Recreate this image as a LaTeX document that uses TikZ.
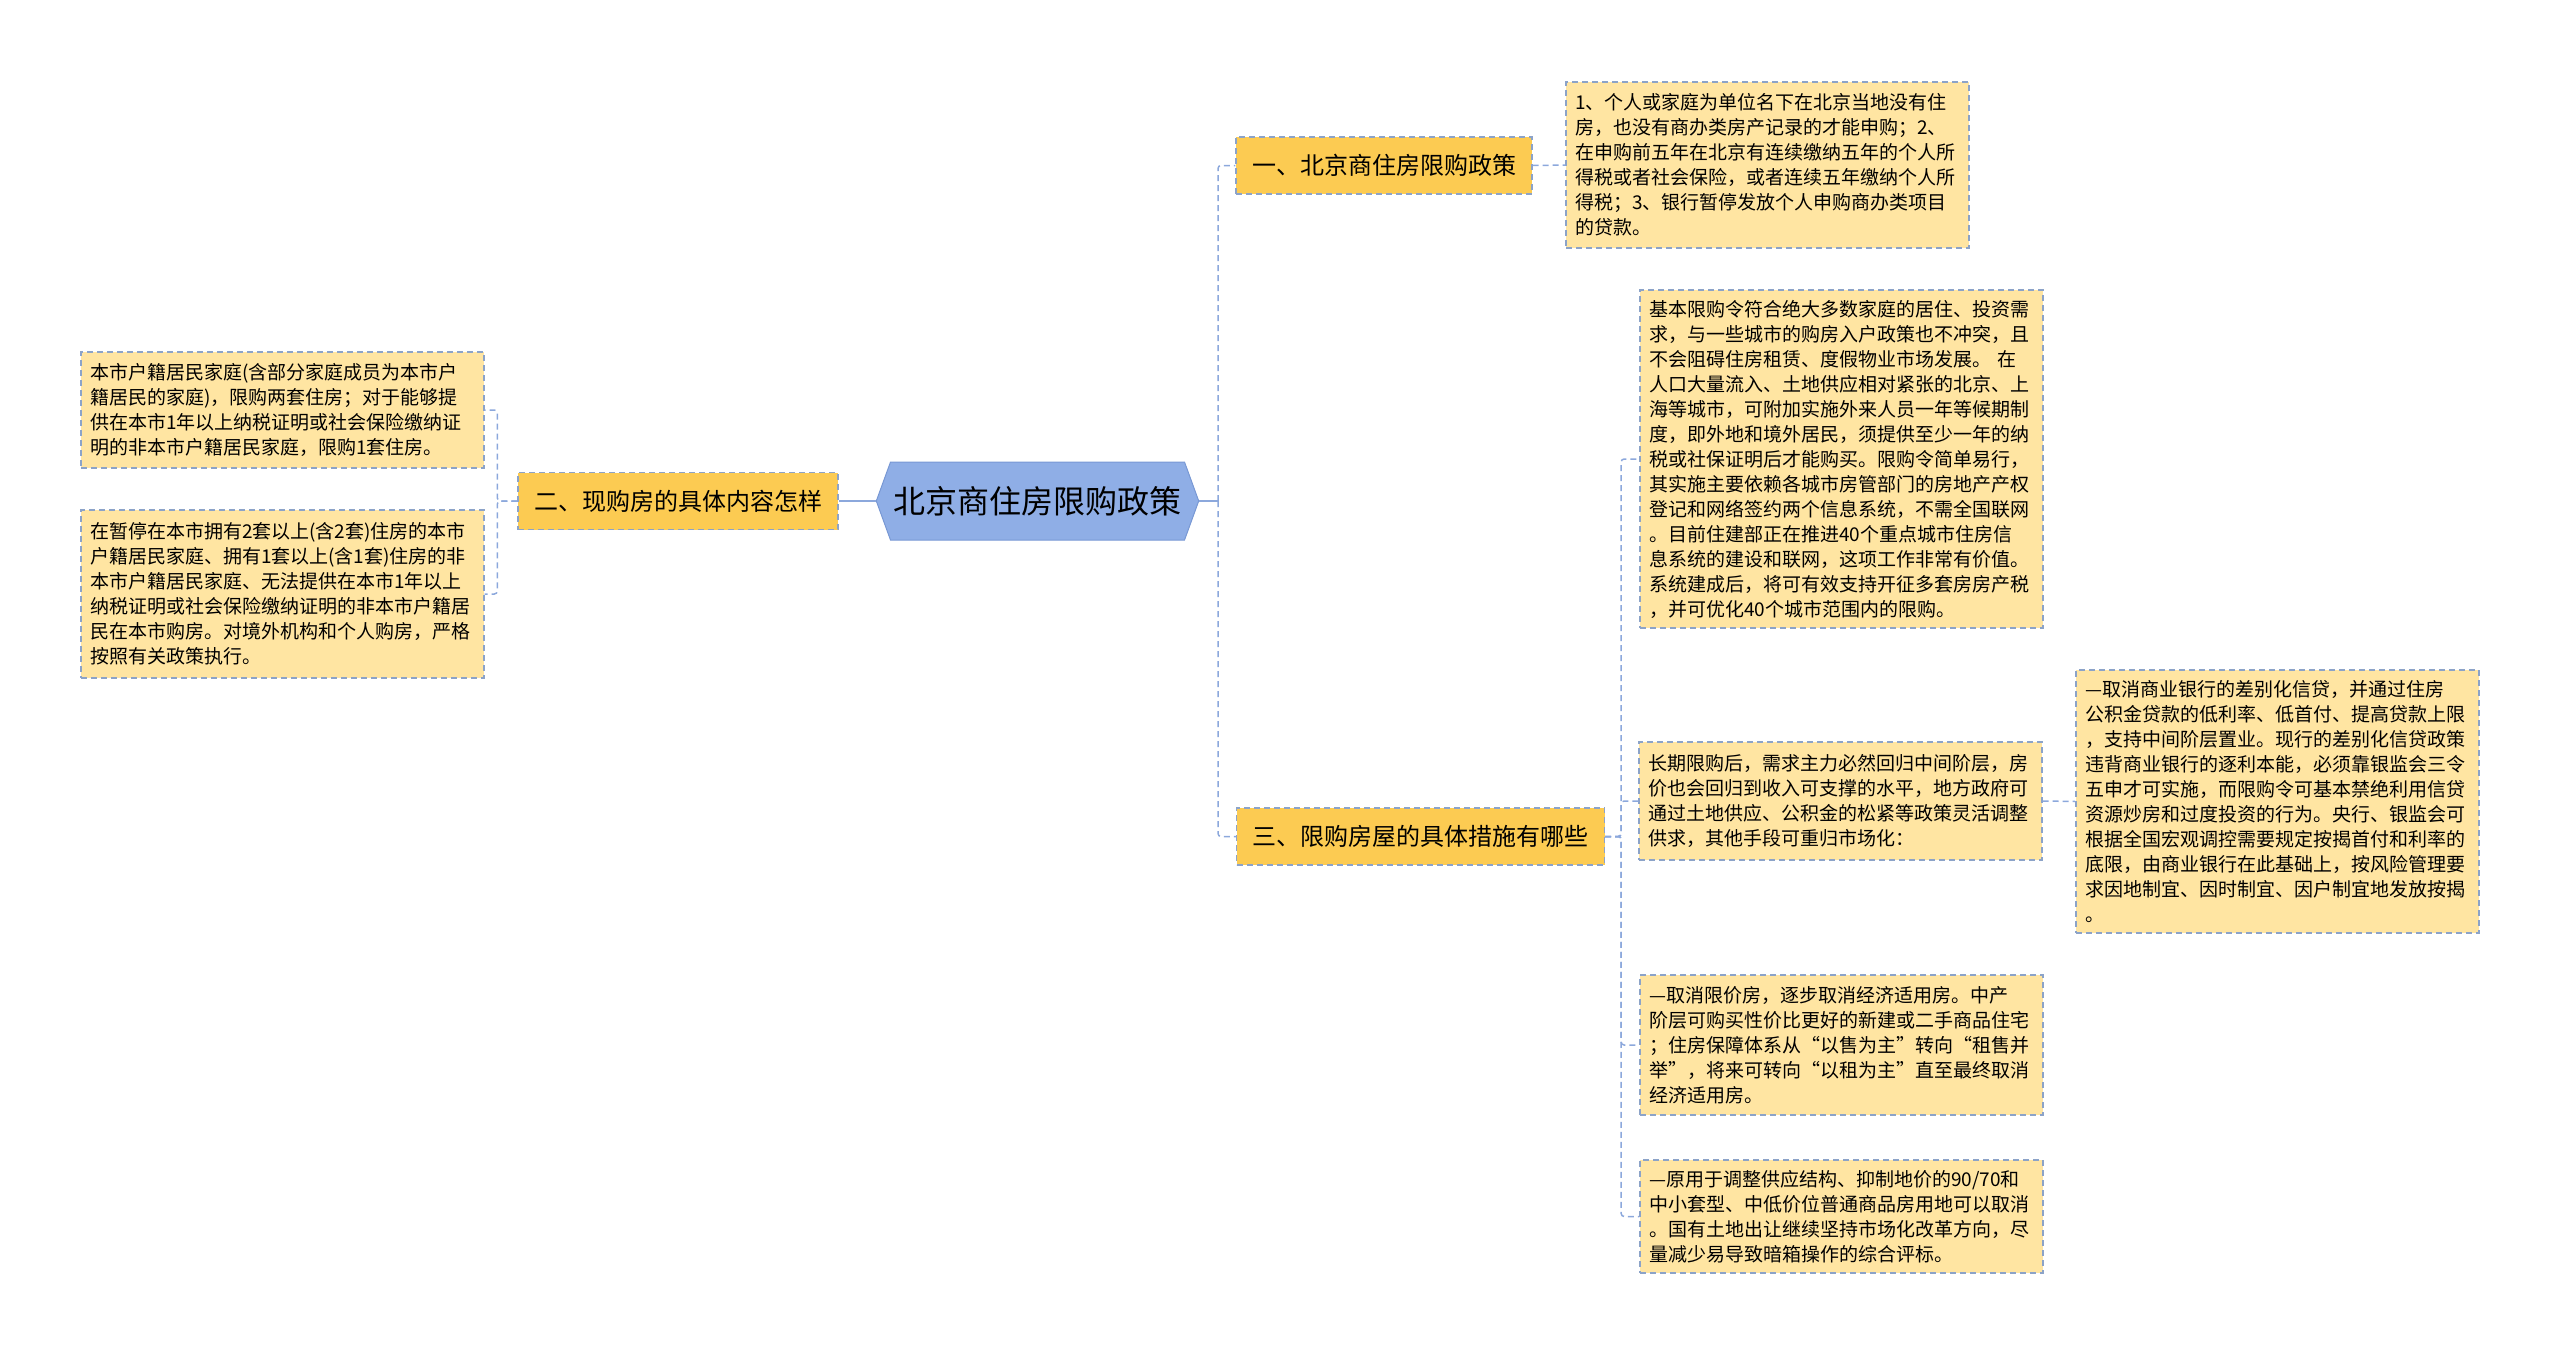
\documentclass[tikz,border=0pt]{standalone}
\usepackage{fontspec}
\setmainfont{Noto Sans CJK SC}
\usetikzlibrary{shapes.symbols}

\definecolor{rootblue}{RGB}{143,174,230}
\definecolor{rootedge}{RGB}{120,152,212}
\definecolor{gold}{RGB}{252,203,82}
\definecolor{leafyellow}{RGB}{255,229,162}
\definecolor{edgegray}{RGB}{140,163,200}
\definecolor{linkblue}{RGB}{140,168,220}

\begin{document}
\begin{tikzpicture}[x=1pt,y=-1pt]

      \tikzstyle{rootnode}=[shape=signal,signal to=east and west,signal pointer angle=140,
                            fill=rootblue,draw=rootedge,line width=1pt,minimum height=78pt,
                            inner xsep=3pt,font=\fontsize{32}{38}\selectfont]
      \tikzstyle{topic}=[draw=edgegray,dashed,dash pattern=on 6pt off 4pt,line width=1.3pt,
                         fill=gold,minimum height=57pt,inner xsep=16pt,
                         font=\fontsize{24}{28}\selectfont]
      \tikzstyle{leaf}=[draw=edgegray,dash pattern=on 6pt off 4pt,line width=1.3pt,
                        fill=leafyellow,text width=385pt,inner xsep=9pt,align=left,
                        font=\fontsize{19}{25}\selectfont]
      \tikzstyle{link}=[draw=linkblue,line width=1.5pt,dash pattern=on 6pt off 4pt,rounded corners=3pt]
      \tikzstyle{rootlink}=[draw=linkblue,line width=2pt]

      \useasboundingbox (0,0) rectangle (2560,1357);

      % centre and first level
      \node[rootnode] (root) at (1037.5,501) {北京商住房限购政策};
      \node[topic] (one) at (1384,165.5) {一、北京商住房限购政策};
      \node[topic] (two) at (678,501) {二、现购房的具体内容怎样};
      \node[topic] (three) at (1420.5,836.5) {三、限购房屋的具体措施有哪些};

      % details
      \node[leaf,minimum height=166pt] (oneA) at (1767.5,165) {1、个人或家庭为单位名下在北京当地没有住\\
        房，也没有商办类房产记录的才能申购；2、\\
        在申购前五年在北京有连续缴纳五年的个人所\\
        得税或者社会保险，或者连续五年缴纳个人所\\
        得税；3、银行暂停发放个人申购商办类项目\\
        的贷款。};
      \node[leaf,minimum height=116pt] (twoA) at (282.5,410) {本市户籍居民家庭(含部分家庭成员为本市户\\
        籍居民的家庭)，限购两套住房；对于能够提\\
        供在本市1年以上纳税证明或社会保险缴纳证\\
        明的非本市户籍居民家庭，限购1套住房。};
      \node[leaf,minimum height=168pt] (twoB) at (282.5,594) {在暂停在本市拥有2套以上(含2套)住房的本市\\
        户籍居民家庭、拥有1套以上(含1套)住房的非\\
        本市户籍居民家庭、无法提供在本市1年以上\\
        纳税证明或社会保险缴纳证明的非本市户籍居\\
        民在本市购房。对境外机构和个人购房，严格\\
        按照有关政策执行。};
      \node[leaf,minimum height=338pt] (threeA) at (1841.5,459) {基本限购令符合绝大多数家庭的居住、投资需\\
        求，与一些城市的购房入户政策也不冲突，且\\
        不会阻碍住房租赁、度假物业市场发展。\ 在\\
        人口大量流入、土地供应相对紧张的北京、上\\
        海等城市，可附加实施外来人员一年等候期制\\
        度，即外地和境外居民，须提供至少一年的纳\\
        税或社保证明后才能购买。限购令简单易行，\\
        其实施主要依赖各城市房管部门的房地产产权\\
        登记和网络签约两个信息系统，不需全国联网\\
        。目前住建部正在推进40个重点城市住房信\\
        息系统的建设和联网，这项工作非常有价值。\\
        系统建成后，将可有效支持开征多套房房产税\\
        ，并可优化40个城市范围内的限购。};
      \node[leaf,minimum height=118pt] (threeB) at (1840.5,801) {长期限购后，需求主力必然回归中间阶层，房\\
        价也会回归到收入可支撑的水平，地方政府可\\
        通过土地供应、公积金的松紧等政策灵活调整\\
        供求，其他手段可重归市场化：};
      \node[leaf,minimum height=263pt] (threeBa) at (2277.5,801.5) {—取消商业银行的差别化信贷，并通过住房\\
        公积金贷款的低利率、低首付、提高贷款上限\\
        ，支持中间阶层置业。现行的差别化信贷政策\\
        违背商业银行的逐利本能，必须靠银监会三令\\
        五申才可实施，而限购令可基本禁绝利用信贷\\
        资源炒房和过度投资的行为。央行、银监会可\\
        根据全国宏观调控需要规定按揭首付和利率的\\
        底限，由商业银行在此基础上，按风险管理要\\
        求因地制宜、因时制宜、因户制宜地发放按揭\\
        。};
      \node[leaf,minimum height=140pt] (threeC) at (1841.5,1045) {—取消限价房，逐步取消经济适用房。中产\\
        阶层可购买性价比更好的新建或二手商品住宅\\
        ；住房保障体系从“以售为主”转向“租售并\\
        举”，将来可转向“以租为主”直至最终取消\\
        经济适用房。};
      \node[leaf,minimum height=113pt] (threeD) at (1841.5,1216.5) {—原用于调整供应结构、抑制地价的90/70和\\
        中小套型、中低价位普通商品房用地可以取消\\
        。国有土地出让继续坚持市场化改革方向，尽\\
        量减少易导致暗箱操作的综合评标。};

      % connectors
      \coordinate (rj) at (1218,501);
      \draw[rootlink] (root.east) -- (rj);
      \draw[rootlink] (root.west) -- (two.east);
      \draw[link] (rj) |- (one.west);
      \draw[link] (rj) |- (three.west);
      \draw[link] (one.east) -- (oneA.west);
      \draw[link] (two.west) -- ++(-20,0) |- (twoA.east);
      \draw[link] (two.west) -- ++(-20,0) |- (twoB.east);
      \draw[link] (three.east) -- ++(16,0) |- (threeA.west);
      \draw[link] (three.east) -- ++(16,0) |- (threeB.west);
      \draw[link] (three.east) -- ++(16,0) |- (threeC.west);
      \draw[link] (three.east) -- ++(16,0) |- (threeD.west);
      \draw[link] (threeB.east) -- (threeBa.west);

    \end{tikzpicture}
\end{document}
